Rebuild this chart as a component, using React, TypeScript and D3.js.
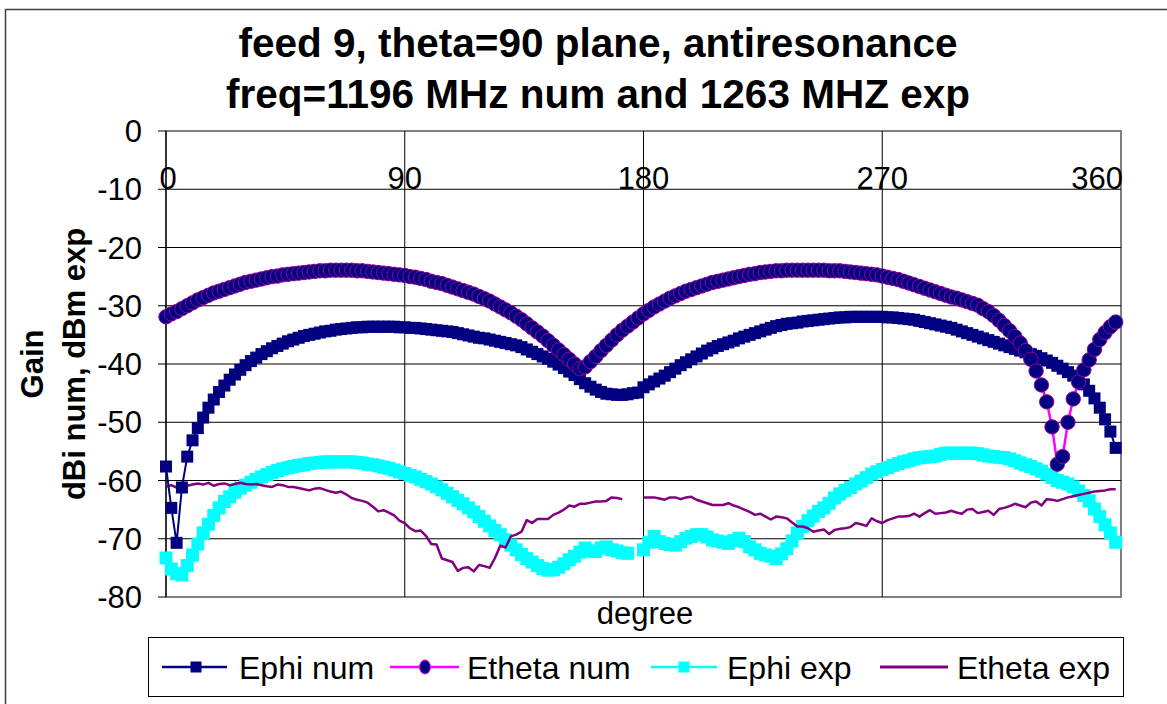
import React from 'react';
import * as d3 from 'd3';

const TITLE_LINES = ['feed 9, theta=90 plane, antiresonance', 'freq=1196 MHz num and 1263 MHZ exp'];
const Y_TITLE_LINES = ['Gain', 'dBi num, dBm exp'];
const X_TITLE = 'degree';
const X_TICKS = [0, 90, 180, 270, 360];
const Y_TICKS = [0, -10, -20, -30, -40, -50, -60, -70, -80];
const SERIES_NAMES = ['Ephi num', 'Etheta num', 'Ephi exp', 'Etheta exp'];
const ANGLE_STEP = 2; // degrees between samples, first sample at 0

const ephiNum: number[] = [
  -57.6, -64.7, -70.7, -61.2, -55.9, -53.1, -51.0, -49.2, -47.5, -46.1,
  -44.8, -43.7, -42.7, -41.8, -41.0, -40.2, -39.5, -38.9, -38.3, -37.8,
  -37.3, -36.9, -36.5, -36.1, -35.8, -35.5, -35.2, -35.0, -34.8, -34.6,
  -34.4, -34.3, -34.1, -34.0, -33.9, -33.8, -33.7, -33.7, -33.6, -33.6,
  -33.6, -33.6, -33.6, -33.6, -33.7, -33.7, -33.8, -33.8, -33.9, -34.0,
  -34.1, -34.2, -34.3, -34.4, -34.5, -34.7, -34.9, -35.1, -35.3, -35.5,
  -35.6, -35.8, -36.0, -36.2, -36.4, -36.6, -36.8, -37.1, -37.5, -37.9,
  -38.3, -38.7, -39.1, -39.6, -40.1, -40.7, -41.3, -41.9, -42.6, -43.3,
  -43.9, -44.4, -44.8, -45.1, -45.2, -45.3, -45.3, -45.2, -45.0, -44.9,
  -44.0, -43.5, -43.0, -42.5, -42.0, -41.4, -40.8, -40.2, -39.7, -39.2,
  -38.7, -38.2, -37.7, -37.3, -36.9, -36.6, -36.3, -36.0, -35.6, -35.3,
  -35.0, -34.7, -34.4, -34.1, -33.8, -33.5, -33.3, -33.1, -33.0, -32.9,
  -32.7, -32.6, -32.5, -32.4, -32.3, -32.2, -32.1, -32.0, -32.0, -31.9,
  -31.9, -31.9, -31.9, -31.9, -31.9, -31.9, -32.0, -32.0, -32.1, -32.2,
  -32.3, -32.4, -32.6, -32.8, -33.0, -33.2, -33.4, -33.6, -33.8, -34.1,
  -34.4, -34.7, -35.0, -35.3, -35.6, -35.9, -36.2, -36.5, -36.8, -37.1,
  -37.4, -37.7, -38.0, -38.3, -38.6, -39.0, -39.4, -39.8, -40.3, -40.8,
  -41.4, -42.0, -42.7, -43.5, -44.6, -45.9, -47.5, -49.5, -51.6, -54.4,
];

const ethetaNum: number[] = [
  -31.9, -31.4, -31.0, -30.5, -30.0, -29.5, -29.0, -28.6, -28.2, -27.8,
  -27.5, -27.2, -26.9, -26.6, -26.3, -26.0, -25.8, -25.6, -25.4, -25.2,
  -25.0, -24.9, -24.7, -24.6, -24.5, -24.4, -24.3, -24.2, -24.1, -24.0,
  -24.0, -23.9, -23.9, -23.9, -23.9, -23.9, -24.0, -24.0, -24.1, -24.2,
  -24.3, -24.4, -24.5, -24.6, -24.7, -24.8, -25.0, -25.1, -25.3, -25.5,
  -25.8, -26.0, -26.2, -26.5, -26.8, -27.1, -27.4, -27.7, -28.0, -28.4,
  -28.8, -29.2, -29.7, -30.2, -30.7, -31.2, -31.8, -32.4, -33.1, -33.8,
  -34.5, -35.2, -36.0, -36.8, -37.6, -38.4, -39.2, -40.0, -40.8, -40.5,
  -39.6, -38.7, -37.7, -36.8, -35.9, -35.0, -34.2, -33.5, -32.8, -32.1,
  -31.4, -30.8, -30.2, -29.7, -29.2, -28.7, -28.3, -27.9, -27.5, -27.2,
  -26.9, -26.6, -26.3, -26.0, -25.8, -25.6, -25.4, -25.2, -25.0, -24.8,
  -24.6, -24.5, -24.3, -24.2, -24.1, -24.0, -24.0, -23.9, -23.9, -23.9,
  -23.9, -23.9, -23.9, -23.9, -23.9, -24.0, -24.0, -24.0, -24.1, -24.2,
  -24.3, -24.4, -24.5, -24.6, -24.7, -24.9, -25.1, -25.3, -25.5, -25.8,
  -26.1, -26.4, -26.7, -27.0, -27.3, -27.6, -27.9, -28.2, -28.5, -28.7,
  -29.0, -29.3, -29.6, -29.9, -30.5, -31.0, -31.7, -32.5, -33.4, -34.3,
  -35.3, -36.4, -37.7, -39.2, -41.2, -43.6, -46.5, -50.8, -57.2, -55.9,
  -50.0, -46.0, -43.1, -41.0, -39.3, -37.5, -35.8, -34.6, -33.6, -32.8,
];

const ephiExp: (number | null)[] = [
  -73.3, -75.2, -76.0, -76.2, -74.6, -72.8, -70.9, -69.0, -67.5, -66.0,
  -64.7, -63.6, -62.8, -62.0, -61.3, -60.8, -60.3, -59.8, -59.4, -59.0,
  -58.6, -58.3, -58.0, -57.8, -57.6, -57.4, -57.3, -57.1, -57.0, -56.9,
  -56.8, -56.8, -56.8, -56.8, -56.8, -56.8, -56.9, -57.0, -57.2, -57.3,
  -57.5, -57.7, -57.9, -58.2, -58.5, -58.8, -59.1, -59.4, -59.8, -60.2,
  -60.6, -61.1, -61.6, -62.2, -62.8, -63.4, -64.0, -64.7, -65.4, -66.2,
  -67.0, -67.8, -68.6, -69.3, -70.2, -71.1, -71.9, -72.7, -73.4, -74.0,
  -74.6, -75.1, -75.4, -75.3, -74.9, -74.3, -73.6, -73.0, -72.3, -71.6,
  -72.1, -72.2, -71.6, -71.4, -71.9, -72.1, -72.4, -72.5, null, null,
  -71.9, -70.6, -69.6, -70.5, -70.8, -71.0, -71.1, -70.5, -69.9, -69.6,
  -69.3, -69.3, -69.7, -70.2, -70.4, -70.6, -70.8, -70.3, -69.9, -70.5,
  -71.4, -71.9, -72.5, -72.8, -73.0, -73.4, -72.6, -71.7, -70.4, -69.0,
  -67.9, -66.9, -66.1, -65.3, -64.7, -63.9, -63.0, -62.3, -61.7, -61.2,
  -60.6, -60.1, -59.5, -58.9, -58.5, -58.1, -57.8, -57.4, -57.1, -56.8,
  -56.6, -56.3, -56.1, -56.0, -55.9, -55.8, -55.5, -55.3, -55.3, -55.3,
  -55.3, -55.3, -55.3, -55.4, -55.6, -55.8, -55.9, -56.0, -56.1, -56.3,
  -56.6, -57.0, -57.3, -57.6, -58.0, -58.4, -58.9, -59.5, -60.0, -60.3,
  -60.6, -61.1, -61.8, -62.6, -63.5, -64.9, -66.2, -67.6, -69.0, -70.6,
];

const ethetaExp: (number | null)[] = [
  -61.1, -60.8, -61.2, -60.6, -60.9, -60.7, -60.5, -60.7, -60.4, -60.9,
  -60.6, -60.5, -60.8, -60.6, -60.4, -60.6, -60.7, -60.6, -60.8, -61.0,
  -61.1, -60.7, -60.8, -61.1, -61.1, -61.3, -61.5, -61.7, -61.4, -61.3,
  -61.6, -61.9, -62.1, -61.9, -62.4, -63.0, -63.3, -63.5, -63.8, -64.5,
  -65.3, -65.1, -65.5, -66.0, -66.9, -67.3, -68.2, -68.7, -68.6, -69.5,
  -70.9, -71.0, -73.4, -73.7, -74.0, -75.5, -75.0, -74.9, -75.6, -74.5,
  -74.7, -75.0, -73.3, -71.2, -71.5, -69.6, -69.3, -68.8, -66.8, -67.3,
  -66.6, -66.6, -66.6, -65.9, -65.5, -65.0, -64.3, -64.5, -64.0, -64.0,
  -63.8, -63.6, -63.6, -63.5, -62.9, -63.0, -63.2, null, null, null,
  -62.9, -62.9, -62.9, -63.1, -63.3, -62.9, -62.9, -63.2, -62.9, -62.8,
  -63.3, -63.6, -63.9, -64.2, -64.2, -64.2, -63.9, -64.3, -64.6, -65.0,
  -65.4, -65.9, -65.7, -66.2, -66.7, -66.2, -66.3, -66.5, -67.2, -67.9,
  -67.9, -68.2, -68.8, -68.6, -68.4, -69.2, -68.5, -68.3, -68.2, -68.0,
  -67.3, -67.5, -67.8, -66.5, -67.0, -67.3, -66.8, -66.5, -66.2, -66.2,
  -66.1, -65.7, -66.2, -65.6, -65.1, -65.7, -65.6, -65.5, -65.2, -65.5,
  -65.7, -65.0, -64.9, -65.6, -65.4, -65.2, -65.9, -64.9, -64.7, -64.4,
  -64.0, -64.3, -64.6, -63.8, -63.6, -64.3, -63.2, -63.3, -63.5, -63.2,
  -62.9, -62.7, -62.5, -62.3, -62.1, -61.9, -61.8, -61.7, -61.5, -61.5,
];

const COLORS = {
  ephiNum: '#000080',
  ethetaNumLine: '#FF00FF',
  ethetaNumFill: '#000080',
  ethetaNumStroke: '#990099',
  ephiExp: '#00FFFF',
  ethetaExp: '#800080',
};

const W = 1167;
const H = 704;
const PLOT = { left: 166, right: 1121, top: 131, bottom: 597 };
const FONT = "'Liberation Sans', Arial, sans-serif";

type Pt = { a: number; v: number | null };
const toPoints = (vals: (number | null)[]): Pt[] => vals.map((v, i) => ({ a: i * ANGLE_STEP, v }));

export default function App() {
  const x = d3.scaleLinear().domain([0, 360]).range([PLOT.left, PLOT.right]);
  const y = d3.scaleLinear().domain([-80, 0]).range([PLOT.bottom, PLOT.top]);

  const line = d3
    .line<Pt>()
    .defined((d) => d.v !== null)
    .x((d) => x(d.a))
    .y((d) => y(d.v as number));

  const pEphiNum = toPoints(ephiNum);
  const pEthetaNum = toPoints(ethetaNum);
  const pEphiExp = toPoints(ephiExp);
  const pEthetaExp = toPoints(ethetaExp);

  const sqNum = 12;
  const sqExp = 13;
  const circR = 7.2;

  const legendY = 667;
  const legendItems = [
    { name: SERIES_NAMES[0], x1: 162, x2: 227, mx: 196, text: 239 },
    { name: SERIES_NAMES[1], x1: 390, x2: 459, mx: 425, text: 467 },
    { name: SERIES_NAMES[2], x1: 651, x2: 717, mx: 684, text: 727 },
    { name: SERIES_NAMES[3], x1: 880, x2: 948, mx: 914, text: 957 },
  ];

  return (
    <svg
      width={W}
      height={H}
      style={{ position: 'absolute', left: 0, top: 0, background: '#fff' }}
      fontFamily={FONT}
    >
      <rect x={0} y={0} width={W} height={H} fill="#fff" />
      {/* chart border */}
      <rect x={5.5} y={9.5} width={W + 20} height={H + 20} fill="none" stroke="#404040" strokeWidth={1.5} />

      {/* title */}
      {TITLE_LINES.map((t, i) => (
        <text key={t} x={598} y={57 + i * 51} textAnchor="middle" fontSize={40.5} fontWeight="bold" fill="#000">
          {t}
        </text>
      ))}

      {/* plot area border */}
      <rect
        x={PLOT.left}
        y={PLOT.top}
        width={PLOT.right - PLOT.left}
        height={PLOT.bottom - PLOT.top}
        fill="#fff"
        stroke="#808080"
        strokeWidth={2}
      />

      {/* horizontal gridlines */}
      {Y_TICKS.filter((t) => t !== 0 && t !== -80).map((t) => (
        <line key={'hg' + t} x1={PLOT.left} x2={PLOT.right} y1={y(t)} y2={y(t)} stroke="#000" strokeWidth={1} />
      ))}
      {/* vertical gridlines */}
      {X_TICKS.filter((t) => t !== 0 && t !== 360).map((t) => (
        <line key={'vg' + t} x1={x(t)} x2={x(t)} y1={PLOT.top} y2={PLOT.bottom} stroke="#000" strokeWidth={1} />
      ))}

      {/* y axis line and ticks */}
      <line x1={PLOT.left} x2={PLOT.left} y1={PLOT.top} y2={PLOT.bottom} stroke="#000" strokeWidth={1.2} />
      {Y_TICKS.map((t) => (
        <g key={'yt' + t}>
          <line x1={PLOT.left - 8} x2={PLOT.left} y1={y(t)} y2={y(t)} stroke="#000" strokeWidth={1} />
          <text x={142} y={y(t)} dy="0.36em" textAnchor="end" fontSize={31} fill="#000">
            {t}
          </text>
        </g>
      ))}

      {/* x tick labels (sit on the -10 gridline, as in the original) */}
      {X_TICKS.map((t) => (
        <text
          key={'xt' + t}
          x={t === 360 ? PLOT.right + 2 : x(t) + (t === 0 ? 2 : 0)}
          y={y(-10)}
          textAnchor={t === 360 ? 'end' : 'middle'}
          fontSize={31}
          fill="#000"
        >
          {t}
        </text>
      ))}

      {/* Ephi exp */}
      <path d={line(pEphiExp) || ''} fill="none" stroke={COLORS.ephiExp} strokeWidth={2} />
      {pEphiExp
        .filter((d) => d.v !== null)
        .map((d, i) => (
          <rect
            key={'ee' + i}
            x={x(d.a) - sqExp / 2}
            y={y(d.v as number) - sqExp / 2}
            width={sqExp}
            height={sqExp}
            fill={COLORS.ephiExp}
          />
        ))}

      {/* Etheta exp */}
      <path d={line(pEthetaExp) || ''} fill="none" stroke={COLORS.ethetaExp} strokeWidth={2.5} strokeLinejoin="round" />

      {/* Ephi num */}
      <path d={line(pEphiNum) || ''} fill="none" stroke={COLORS.ephiNum} strokeWidth={2} />
      {pEphiNum.map((d, i) => (
        <rect
          key={'en' + i}
          x={x(d.a) - sqNum / 2}
          y={y(d.v as number) - sqNum / 2}
          width={sqNum}
          height={sqNum}
          fill={COLORS.ephiNum}
        />
      ))}

      {/* Etheta num */}
      <path d={line(pEthetaNum) || ''} fill="none" stroke={COLORS.ethetaNumLine} strokeWidth={2.5} />
      {pEthetaNum.map((d, i) => (
        <circle
          key={'tn' + i}
          cx={x(d.a)}
          cy={y(d.v as number)}
          r={circR}
          fill={COLORS.ethetaNumFill}
          stroke={COLORS.ethetaNumStroke}
          strokeWidth={1}
        />
      ))}

      {/* axis titles */}
      <text x={645} y={624} textAnchor="middle" fontSize={31} fill="#000">
        {X_TITLE}
      </text>
      {Y_TITLE_LINES.map((t, i) => (
        <text
          key={t}
          transform={`translate(${43 + i * 42}, 364) rotate(-90)`}
          textAnchor="middle"
          fontSize={31}
          fontWeight="bold"
          fill="#000"
        >
          {t}
        </text>
      ))}

      {/* legend */}
      <rect x={148.5} y={637.5} width={975} height={59} fill="#fff" stroke="#000" strokeWidth={1} />
      {legendItems.map((it, i) => (
        <g key={it.name}>
          <line
            x1={it.x1}
            x2={it.x2}
            y1={legendY}
            y2={legendY}
            stroke={[COLORS.ephiNum, COLORS.ethetaNumLine, COLORS.ephiExp, COLORS.ethetaExp][i]}
            strokeWidth={i === 3 ? 3 : 2.5}
          />
          {i === 0 && <rect x={it.mx - 5.5} y={legendY - 5.5} width={11} height={11} fill={COLORS.ephiNum} />}
          {i === 1 && (
            <ellipse
              cx={it.mx}
              cy={legendY}
              rx={5.5}
              ry={7}
              fill={COLORS.ethetaNumFill}
              stroke={COLORS.ethetaNumLine}
              strokeWidth={1}
            />
          )}
          {i === 2 && <rect x={it.mx - 5.5} y={legendY - 5.5} width={11} height={11} fill={COLORS.ephiExp} />}
          <text x={it.text} y={legendY} dy="0.36em" fontSize={32} fill="#000">
            {it.name}
          </text>
        </g>
      ))}
    </svg>
  );
}
